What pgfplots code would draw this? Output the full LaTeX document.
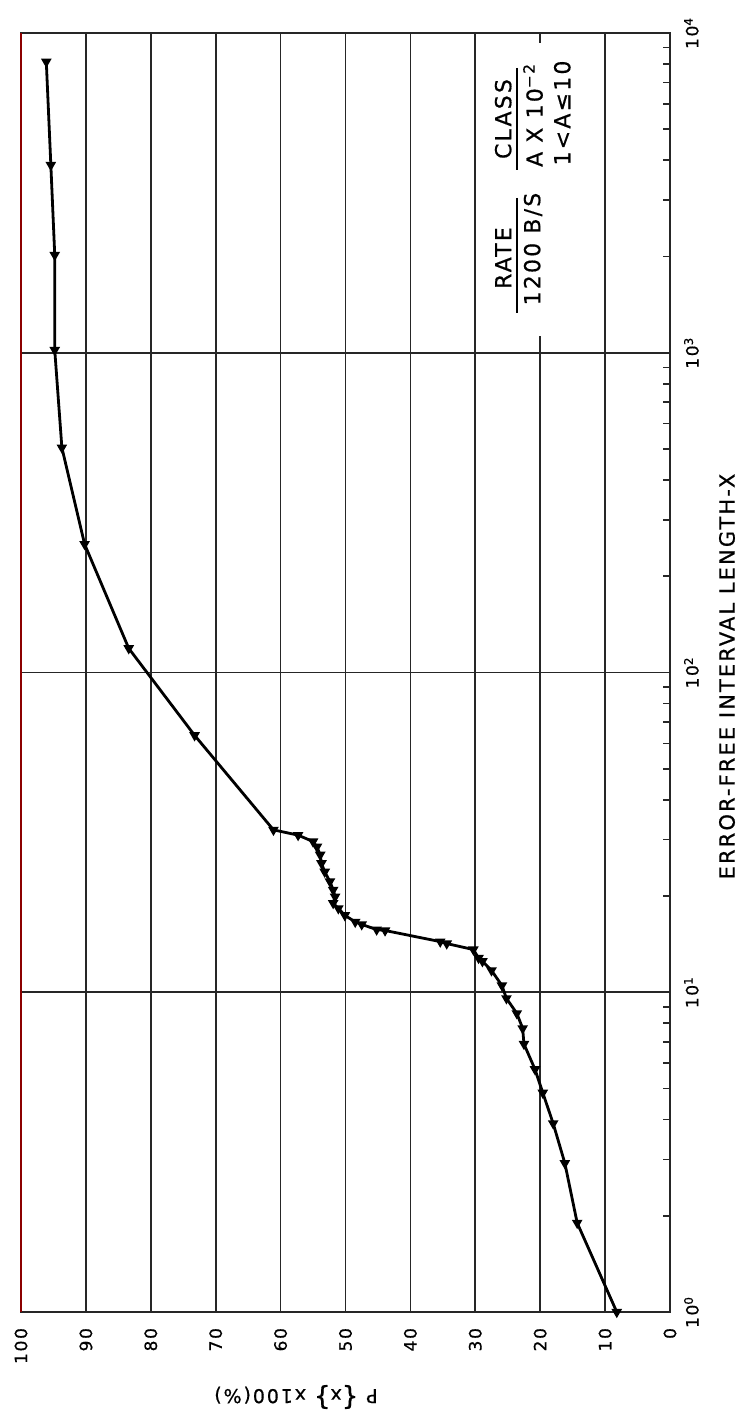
\documentclass[border=0pt]{standalone}
\usepackage{fontspec}
\setmainfont{DejaVu Sans}
\newfontfamily\lab{DejaVu Sans}[LetterSpace=10,FakeBold=0.6]
\usepackage{pgfplots}
\pgfplotsset{compat=1.18}
\usetikzlibrary{calc}

\pgfplotstableread{
P X
8.2 1
14.3 1.90
16.2 2.92
18.0 3.89
19.6 4.85
20.8 5.74
22.5 6.89
22.7 7.71
23.6 8.59
25.2 9.57
25.9 10.5
27.5 11.7
28.9 12.5
29.5 12.8
30.3 13.6
34.4 14.2
35.4 14.4
43.9 15.6
45.2 15.7
47.5 16.3
48.5 16.6
50.1 17.4
51.1 18.3
51.9 19.0
51.6 19.9
51.9 20.9
52.4 22.2
53.2 23.8
53.7 25.3
53.9 26.9
54.4 28.5
55.0 29.6
57.3 31.0
61.1 32.2
73.25 63.6
83.4 119
90.2 252
93.7 505
94.8 1020
94.8 2022
95.4 3866
96.1 8130
}\datatable

\begin{document}
\begin{tikzpicture}
\begin{axis}[
  name=ax,
  scale only axis,
  width=324.5pt, height=639.5pt,
  x dir=reverse,
  xmin=0, xmax=100,
  ymode=log, ymin=1, ymax=10000,
  xtick={0,10,20,30,40,50,60,70,80,90,100},
  xticklabels={0,10,20,30,40,50,60,70,80,90,100},
  ytick={1,10,100,1000,10000},
  yticklabels={10\textsuperscript{0},10\textsuperscript{1},10\textsuperscript{2},10\textsuperscript{3},10\textsuperscript{4}},
  minor ytick={2,3,4,5,6,7,8,9,20,30,40,50,60,70,80,90,200,300,400,500,600,700,800,900,2000,3000,4000,5000,6000,7000,8000,9000},
  xtick pos=bottom,
  ytick pos=right,
  yticklabel pos=right,
  xticklabel style={rotate=90, anchor=east, font=\lab\fontsize{8.5}{10}\selectfont},
  yticklabel style={rotate=90, anchor=north, font=\lab\fontsize{8.5}{10}\selectfont},
  xticklabel shift=4.5pt,
  yticklabel shift=3.5pt,
  grid=major,
  major grid style={black!85, line width=0.85pt},
  axis line style={black!85, line width=1pt},
  tick style={black!85, line width=0.8pt},
  major tick length=0pt,
  minor tick length=3.5pt,
  tick align=inside,
  clip=false,
]
\fill[white] (axis cs:21,1125) rectangle (axis cs:19,9300);
\draw[red!55!black, line width=1pt] (axis cs:100,1) -- (axis cs:100,10000);
\addplot[black, line width=1.4pt, mark=triangle*, mark size=1.7pt,
  mark options={rotate=180, solid}] table[x=P, y=X] {\datatable};

\node[rotate=90, font=\lab\fontsize{11}{13}\selectfont] at (axis cs:25.7,1978) {RATE};
\draw[black, line width=1.3pt] (axis cs:23.6,3048) -- (axis cs:23.6,1331);
\node[rotate=90, font=\lab\fontsize{11}{13}\selectfont] at (axis cs:21.1,2110) {1200 B/S};
\node[rotate=90, font=\lab\fontsize{11}{13}\selectfont] at (axis cs:25.7,5383) {CLASS};
\draw[black, line width=1.3pt] (axis cs:23.6,7778) -- (axis cs:23.6,3730);
\node[rotate=90, font=\lab\fontsize{11}{13}\selectfont] at (axis cs:21.1,5543) {A X 10\textsuperscript{−2}};
\node[rotate=90, font=\lab\fontsize{11}{13}\selectfont] at (axis cs:16.6,5620) {1<A≤10};
\end{axis}
\node[rotate=90, font=\lab\fontsize{10.5}{12}\selectfont] at ($(ax.east)+(28.5pt,-2pt)$) {ERROR-FREE INTERVAL LENGTH-X};
\node[rotate=180, font=\lab\fontsize{9.5}{11}\selectfont] at ($(ax.south)+(-24.75pt,-42.5pt)$) {P {\fontsize{13}{13}\selectfont\{}x{\fontsize{13}{13}\selectfont\}} x100(\%)};
\pgfresetboundingbox
\path[use as bounding box] ($(ax.south west)+(-10.5pt,-50pt)$) rectangle ($(ax.north east)+(35pt,16.5pt)$);
\end{tikzpicture}
\end{document}
